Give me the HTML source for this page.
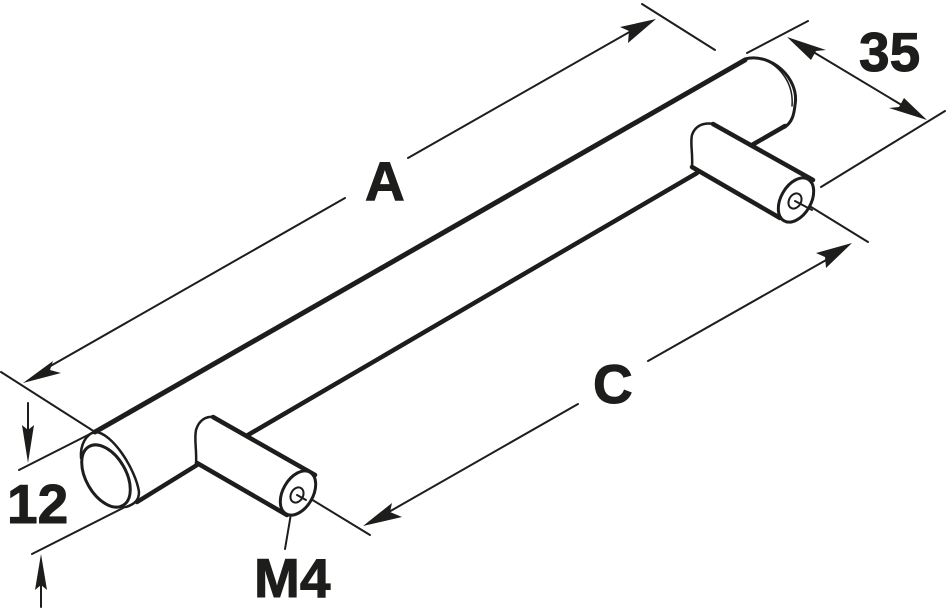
<!DOCTYPE html>
<html><head><meta charset="utf-8"><style>
html,body{margin:0;padding:0;background:#fff;width:950px;height:608px;overflow:hidden}
svg{display:block}
text{font-family:"Liberation Sans",sans-serif;font-weight:bold;font-size:55px;fill:#1d1d1b;stroke:#1d1d1b;stroke-width:1}
</style></head><body>
<svg width="950" height="608" viewBox="0 0 950 608" xmlns="http://www.w3.org/2000/svg">
<g fill="none" stroke="#1d1d1b" stroke-linecap="round" stroke-linejoin="round">
<!-- thin lines -->
<g stroke-width="2">
<path d="M1 372L95 432M19 470L90 434M32 554L125 507"/>
<path d="M28 403V440M41 607V575"/>
<path d="M642 4L715 50M747 53L808 21M821 187L945 111"/>
<path d="M40 372L345 198M408 158L640 26"/>
<path d="M805 47L905 107"/>
<path d="M380 517L578 404M648 361L835 255"/>
<path d="M306 496L370 535M803 202L868 242"/>
<path d="M293 502L285 549"/>
</g>
<!-- rod -->
<path stroke-width="5" d="M95 432L745 60"/>
<path stroke-width="4.5" d="M137 502L197 465M248 435L697 173M752 145L785 126"/>
<path stroke-width="3" d="M745 59C770 52 800 78 795 105C794 115 792 122 785 127"/>
<path stroke-width="1.5" d="M757 58C778 62 794 82 792 106"/>
<!-- left end -->
<path stroke-width="2.5" d="M95 432C112 432 136 470 139 492C139 500 135 504 126 507"/>
<path stroke-width="2.5" d="M95 432C86 434 80 445 81 458"/>
<ellipse cx="106" cy="476" rx="20" ry="34" transform="rotate(-30 106 476)" stroke-width="3"/>
<!-- left stem -->
<path stroke-width="4.5" d="M213 417L315 475M197 463L287 515"/>
<path stroke-width="2.5" d="M196 465C197 450 194 440 196 430C199 420 206 416 214 417"/>
<ellipse cx="298" cy="493" rx="15" ry="24" transform="rotate(30 298 493)" stroke-width="3" fill="#fff"/>
<ellipse cx="297" cy="495" rx="6" ry="8" transform="rotate(30 297 495)" stroke-width="2"/>
<!-- right stem -->
<path stroke-width="4.5" d="M713 124L813 180M692 167L780 218"/>
<path stroke-width="2.5" d="M692 167C693 152 690 144 692 135C695 126 703 122 714 124"/>
<ellipse cx="796" cy="200" rx="15" ry="24" transform="rotate(30 796 200)" stroke-width="3" fill="#fff"/>
<ellipse cx="795" cy="201" rx="6" ry="8" transform="rotate(30 795 201)" stroke-width="2"/>
<path stroke-width="2" d="M795 201L812 210"/>
<path stroke-width="2" d="M297 495L306 500"/>
</g>
<!-- arrowheads -->
<g fill="#1d1d1b">
<polygon points="28,463 22,425 28,430 34,425"/>
<polygon points="41,554 35,590 41,585 47,590"/>
<polygon points="23,383 53,361 50,370 61,373"/>
<polygon points="656,19 620,27 629,31 628,43"/>
<polygon points="787,37 826,50 816,51 811,60"/>
<polygon points="927,120 889,108 899,107 904,98"/>
<polygon points="363,526 392,503 390,512 402,517"/>
<polygon points="852,243 816,253 825,257 826,268"/>
</g>
<text x="365" y="200">A</text>
<text x="593" y="403">C</text>
<text x="859" y="71">35</text>
<text x="7" y="523">12</text>
<text x="254" y="597">M4</text>
</svg>
</body></html>
